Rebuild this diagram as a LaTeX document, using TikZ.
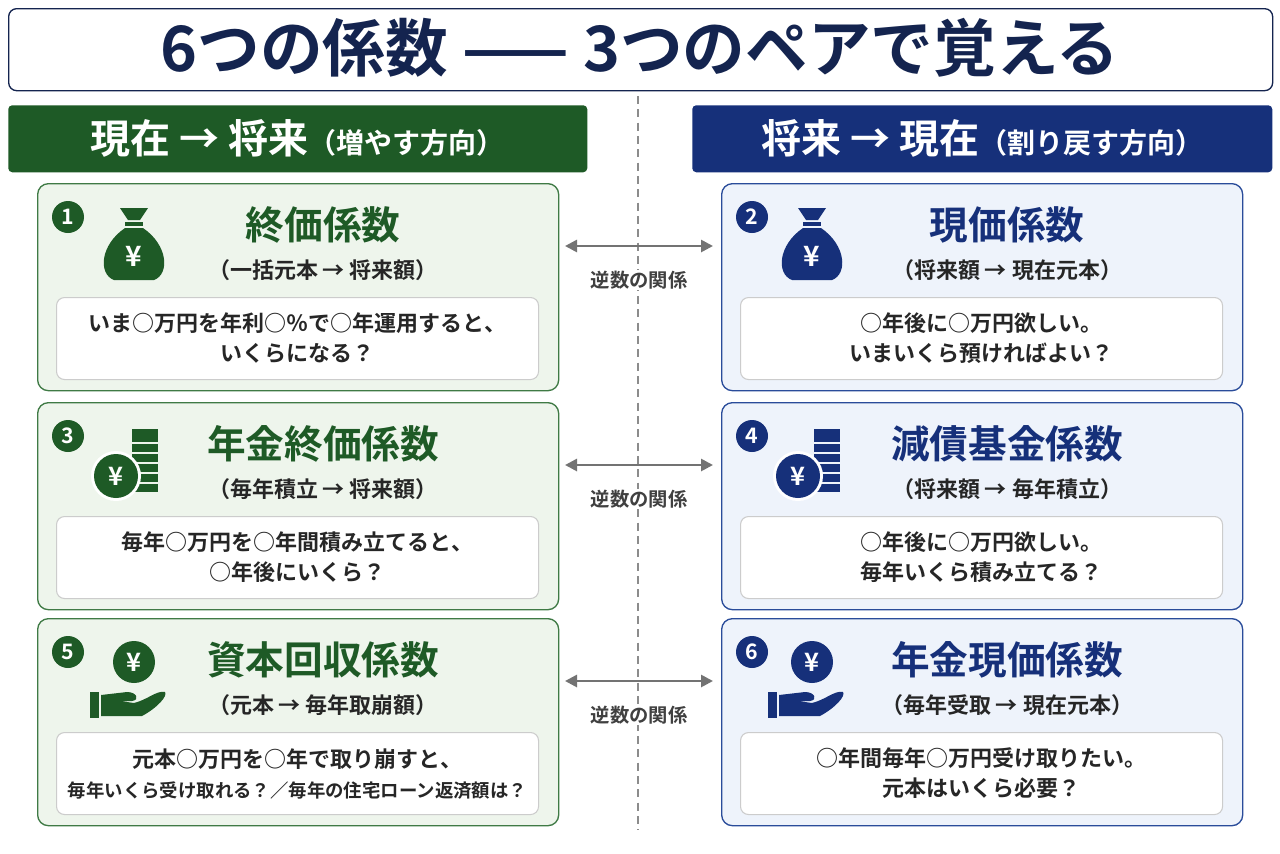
\documentclass[tikz,border=0pt]{standalone}
\usepackage{fontspec}
\setmainfont{Noto Sans CJK JP}[BoldFont={Noto Sans CJK JP Bold}]
\usetikzlibrary{arrows.meta}
\definecolor{gD}{HTML}{1E5A26}
\definecolor{gF}{HTML}{EEF5EC}
\definecolor{gB}{HTML}{3F7A45}
\definecolor{nD}{HTML}{16307A}
\definecolor{nF}{HTML}{EEF3FB}
\definecolor{nB}{HTML}{2A4C9A}
\definecolor{ttl}{HTML}{14244F}
\newcommand{\fs}[1]{\fontsize{#1}{#1}\selectfont}
\tikzset{
 card/.style={draw=#1,line width=1pt,rounded corners=8pt},
 inner/.style={draw=black!20,fill=white,line width=0.8pt,rounded corners=6pt},
 num/.style={circle,fill=#1,text=white,inner sep=0pt,minimum size=24pt,font=\fs{16}\bfseries},
 lbl/.style={font=\fs{14.5}\bfseries,text=black!75,fill=white,inner sep=1pt},
 rel/.style={{Triangle[length=9pt,width=9pt]}-{Triangle[length=9pt,width=9pt]},draw=black!55,line width=2pt}
}
\newcommand{\bag}[3]{%
 \fill[#3] (#1-14,#2-42) -- (#1+14,#2-42) -- (#1+6,#2-30) -- (#1-6,#2-30) -- cycle;
 \fill[#3] (#1-9,#2-28) rectangle (#1+9,#2-24);
 \fill[#3] (#1-9,#2-22) .. controls (#1-34,#2-5) and (#1-36,#2+24) .. (#1-20,#2+30) -- (#1+20,#2+30) .. controls (#1+36,#2+24) and (#1+34,#2-5) .. (#1+9,#2-22) -- cycle;
 \node[text=white,font=\fs{21}\bfseries] at (#1,#2+6) {¥};}
\newcommand{\coins}[3]{%
 \foreach \k in {0,...,5}{\fill[#3] (#1+2,#2+30-\k*10) rectangle (#1+28,#2+22-\k*10);}
 \fill[#3] (#1+2,#2-33) rectangle (#1+28,#2-26);
 \fill[white] (#1-14,#2+14) circle (25);
 \fill[#3] (#1-14,#2+14) circle (22);
 \node[text=white,font=\fs{19}\bfseries] at (#1-14,#2+14) {¥};}
\newcommand{\hand}[3]{%
 \fill[#3] (#1+2,#2-8) circle (21);
 \node[text=white,font=\fs{19}\bfseries] at (#1+2,#2-8) {¥};
 \fill[#3] (#1-42,#2+22) rectangle (#1-33,#2+48);
 \fill[#3] (#1-31,#2+25) -- (#1-5,#2+22) .. controls (#1+5,#2+22) and (#1+8,#2+30) .. (#1,#2+31) -- (#1-12,#2+31) -- (#1+2,#2+33) .. controls (#1+15,#2+30) and (#1+25,#2+20) .. (#1+33,#2+22) .. controls (#1+36,#2+26) and (#1+25,#2+38) .. (#1+10,#2+46) -- (#1-31,#2+46) -- cycle;}
\newcommand{\card}[9]{%
 \node[card=#4,fill=#5,minimum width={521*0.75pt},minimum height={207*0.75pt},anchor=north west] (#1) at (#2,#3) {};
 \node[inner,minimum width={482*0.75pt},minimum height={82*0.75pt},anchor=north west] (#1i) at (#2+19,#3+114) {};
 \node[num=#6] (#1n) at (#2+31,#3+34) {#7};
 \csname icon#1\endcsname
 \node[text=#6,font=\fs{29}\bfseries] (#1t) at (#2+286,#3+42) {#8};
 \node[text=black!85,font=\fs{16.5}\bfseries] (#1s) at (#2+286,#3+87) {#9};
}
\begin{document}
\begin{tikzpicture}[x=0.75pt,y=-0.75pt]
\useasboundingbox (0,0) rectangle (1280,853);
\fill[white] (0,0) rectangle (1280,853);
\node[draw=ttl,line width=1pt,rounded corners=6pt,minimum width={1264*0.75pt},minimum height={82*0.75pt},anchor=north west] (tb) at (8,8) {};
\node[text=ttl,font=\fs{47}\bfseries] (tt) at (640,48) {6つの係数 —— 3つのペアで覚える};
\node[fill=gD,rounded corners=3pt,minimum width={579*0.75pt},minimum height={67*0.75pt},anchor=north west] (hl) at (8,105) {};
\node[text=white] at (hl.center) {\fs{30}\bfseries 現在 → 将来\fs{21}（増やす方向）};
\node[fill=nD,rounded corners=3pt,minimum width={580*0.75pt},minimum height={67*0.75pt},anchor=north west] (hr) at (692,105) {};
\node[text=white] at (hr.center) {\fs{30}\bfseries 将来 → 現在\fs{21}（割り戻す方向）};
\coordinate (d1) at (638,96); \coordinate (d2) at (638,830);
\draw[black!45,line width=1pt,dash pattern=on 6pt off 4pt] (d1) -- (d2);
\expandafter\def\csname iconc1\endcsname{\bag{134}{250}{gD}}
\expandafter\def\csname iconc2\endcsname{\bag{812}{250}{nD}}
\expandafter\def\csname iconc3\endcsname{\coins{130}{462}{gD}}
\expandafter\def\csname iconc4\endcsname{\coins{812}{462}{nD}}
\expandafter\def\csname iconc5\endcsname{\hand{132}{670}{gD}}
\expandafter\def\csname iconc6\endcsname{\hand{810}{670}{nD}}
\card{c1}{37}{183}{gB}{gF}{gD}{1}{終価係数}{（一括元本 → 将来額）}
\card{c2}{721}{183}{nB}{nF}{nD}{2}{現価係数}{（将来額 → 現在元本）}
\card{c3}{37}{402}{gB}{gF}{gD}{3}{年金終価係数}{（毎年積立 → 将来額）}
\card{c4}{721}{402}{nB}{nF}{nD}{4}{減債基金係数}{（将来額 → 毎年積立）}
\card{c5}{37}{618}{gB}{gF}{gD}{5}{資本回収係数}{（元本 → 毎年取崩額）}
\card{c6}{721}{618}{nB}{nF}{nD}{6}{年金現価係数}{（毎年受取 → 現在元本）}
\tikzset{body/.style={align=center,text=black!85,font=\fs{16.5}\bfseries}}
\node[body] at (c1i) {いま○万円を年利○％で○年運用すると、\\[6pt]いくらになる？};
\node[body] at (c2i) {○年後に○万円欲しい。\\[6pt]いまいくら預ければよい？};
\node[body] at (c3i) {毎年○万円を○年間積み立てると、\\[6pt]○年後にいくら？};
\node[body] at (c4i) {○年後に○万円欲しい。\\[6pt]毎年いくら積み立てる？};
\node[body] at (c5i) {元本○万円を○年で取り崩すと、\\[6pt]{\fs{13.8}毎年いくら受け取れる？／毎年の住宅ローン返済額は？}};
\node[body] at (c6i) {○年間毎年○万円受け取りたい。\\[6pt]元本はいくら必要？};
\foreach \a/\b/\y in {c1/c2/246,c3/c4/465,c5/c6/681}{
 \coordinate (\a L) at (565,\y); \coordinate (\a R) at (713,\y);
 \draw[rel] (\a L) -- (\a R);
 \node[lbl] at (639,\y+34) {逆数の関係};
}
\end{tikzpicture}
\end{document}
